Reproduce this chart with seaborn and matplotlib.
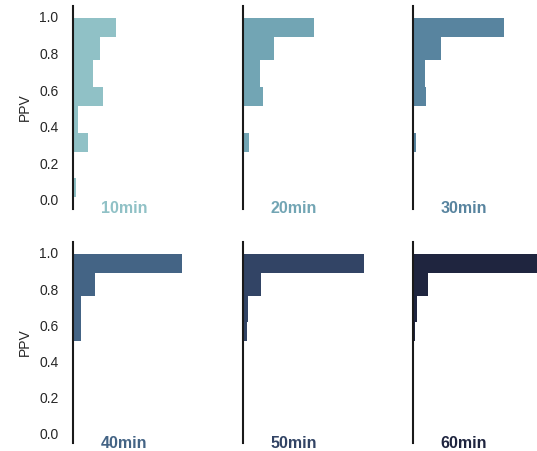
import numpy as np
import pandas as pd
import matplotlib
matplotlib.use("Agg")
import matplotlib.pyplot as plt
import seaborn as sns

# Data

times = ["10min", "20min", "30min", "40min", "50min", "60min"]

# bin edges on the PPV axis (shared by all panels)
ppv_edges = [0.013, 0.119, 0.264, 0.368, 0.512, 0.616, 0.762, 0.889, 0.995]

# counts per bin, lowest bin first
counts_10 = [3.5, 1, 15, 5, 30, 20, 27, 43]
counts_20 = [0, 0, 6, 0, 20, 17, 31, 71]
counts_30 = [0, 0, 3, 0, 13.5, 12, 28, 91]
counts_40 = [0, 0, 0, 0, 8.6, 8.6, 22, 109]
counts_50 = [0, 0, 0, 0, 4.6, 5.6, 18, 120.6]
counts_60 = [0, 0, 0, 0, 2.6, 4.6, 15, 126]

all_counts = [counts_10, counts_20, counts_30, counts_40, counts_50, counts_60]

# Build long-form table

centers = [(a + b) / 2 for a, b in zip(ppv_edges[:-1], ppv_edges[1:])]

df = pd.DataFrame({
    "time": np.repeat(times, len(centers)),
    "ppv": np.tile(centers, len(times)),
    "count": np.concatenate(all_counts)
})

# Style

sns.set_theme(style="white", rc={"axes.facecolor": (0, 0, 0, 0)})
plt.rcParams["font.family"] = ["Liberation Sans", "DejaVu Sans"]

pal = sns.cubehelix_palette(6, rot=-.25, light=.7)

g = sns.FacetGrid(
    df,
    col="time",
    hue="time",
    col_wrap=3,
    palette=pal,
    sharex=True,
    sharey=True,
    height=2.2,
    aspect=0.8
)

g.map_dataframe(
    sns.histplot,
    y="ppv",
    weights="count",
    bins=ppv_edges,
    alpha=1,
    linewidth=0
)

g.set_titles("")
g.set_axis_labels("", "")
g.despine(bottom=True, left=False)

# Layout in pixels

fig = g.figure
fig.set_size_inches(5.37, 4.51)
W, H = 537, 451

lefts = [72.5, 242.5, 412.5]
tops = [6, 242]
bottoms = [209, 443]
ax_w = 124.5

for i, ax in enumerate(g.axes.flat):
    r, c = divmod(i, 3)
    ax.set_position([
        lefts[c] / W,
        (H - bottoms[r]) / H,
        ax_w / W,
        (bottoms[r] - tops[r]) / H
    ])
    ax.set_xlim(0, 124)
    ax.set_ylim(-0.05, 1.06)
    ax.set_xticks([])
    ax.set_yticks([0, 0.2, 0.4, 0.6, 0.8, 1.0])
    ax.spines["left"].set_linewidth(1.5)
    ax.spines["left"].set_color("#1a1a1a")
    ax.tick_params(axis="y", length=0, pad=10, labelsize=10, labelcolor="#262626")
    if c == 0:
        ax.set_ylabel("PPV", fontsize=10, color="#262626")
        ax.yaxis.set_label_coords(-0.33, 0.5)
    else:
        ax.tick_params(axis="y", labelleft=False)
    ax.text(
        28 / ax_w, 0, times[i],
        fontweight="bold",
        fontsize=11.5,
        color=pal[i],
        ha="left",
        va="center",
        transform=ax.transAxes
    )

fig.savefig("out.png", dpi=100)
